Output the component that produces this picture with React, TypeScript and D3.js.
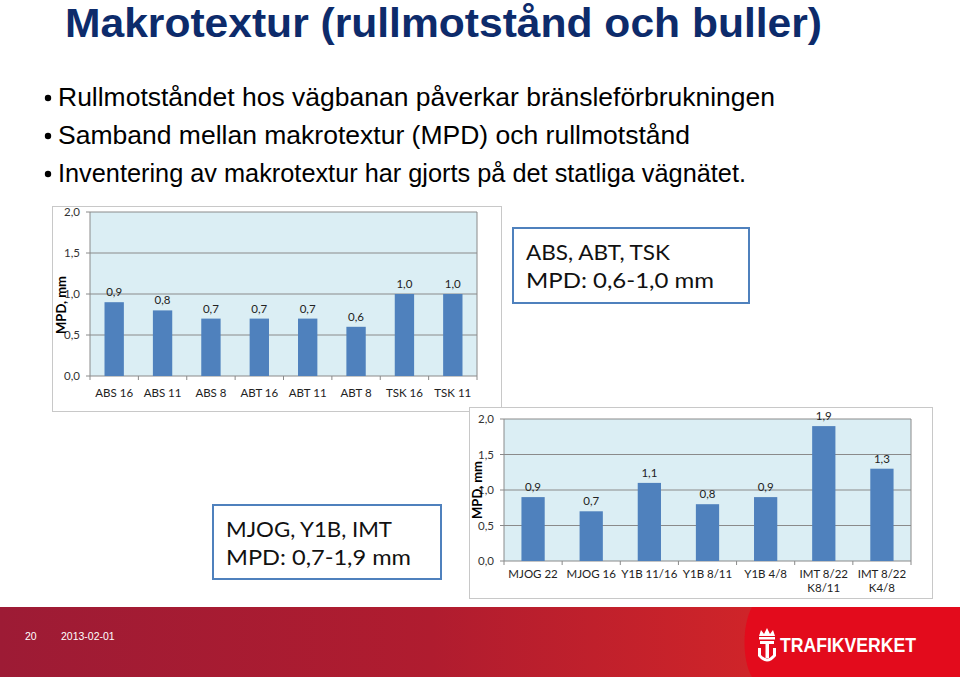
import React, { useEffect } from "react";
import * as d3 from "d3";

const titleText = "Makrotextur (rullmotstånd och buller)";
const bullets = [
  "Rullmotståndet hos vägbanan påverkar bränsleförbrukningen",
  "Samband mellan makrotextur (MPD) och rullmotstånd",
  "Inventering av makrotextur har gjorts på det statliga vägnätet.",
];
const categories1 = ["ABS 16", "ABS 11", "ABS 8", "ABT 16", "ABT 11", "ABT 8", "TSK 16", "TSK 11"];
const values1 = [0.9, 0.8, 0.7, 0.7, 0.7, 0.6, 1.0, 1.0];
const categories2 = [
  ["MJOG 22"],
  ["MJOG 16"],
  ["Y1B 11/16"],
  ["Y1B 8/11"],
  ["Y1B 4/8"],
  ["IMT 8/22", "K8/11"],
  ["IMT 8/22", "K4/8"],
];
const values2 = [0.9, 0.7, 1.1, 0.8, 0.9, 1.9, 1.3];
const yTicks = [0, 0.5, 1.0, 1.5, 2.0];
const yAxisTitle = "MPD, mm";
const box1Lines = ["ABS, ABT, TSK", "MPD: 0,6-1,0 mm"];
const box2Lines = ["MJOG, Y1B, IMT", "MPD: 0,7-1,9 mm"];
const footerPage = "20";
const footerDate = "2013-02-01";
const brand = "TRAFIKVERKET";

const fmt = (v: number) => d3.format(".1f")(v).replace(".", ",");
const chartFont = "Lato, 'Open Sans', sans-serif";

type ChartProps = {
  frame: [number, number, number, number];
  plot: [number, number, number, number];
  cats: string[][];
  vals: number[];
  titleX: number;
  titleY: number;
  catY: number;
};

function BarChart({ frame, plot, cats, vals, titleX, titleY, catY }: ChartProps) {
  const [fx, fy, fw, fh] = frame;
  const [px0, py0, px1, py1] = plot;
  const x = d3
    .scaleBand<number>()
    .domain(d3.range(vals.length))
    .range([px0, px1])
    .paddingInner(0.6)
    .paddingOuter(0.3);
  const y = d3.scaleLinear().domain([0, 2]).range([py1, py0]);
  const step = x.step();
  return (
    <g>
      <rect x={fx + 0.5} y={fy + 0.5} width={fw} height={fh} fill="#ffffff" stroke="#c8c8c8" strokeWidth={1} />
      <rect x={px0} y={py0} width={px1 - px0} height={py1 - py0} fill="#dbeef4" />
      {yTicks.map((t) => (
        <g key={t}>
          <line x1={px0} x2={px1} y1={y(t)} y2={y(t)} stroke="#8a8a8a" strokeWidth={1} />
          <line x1={px0 - 4} x2={px0} y1={y(t)} y2={y(t)} stroke="#8a8a8a" strokeWidth={1} />
          <text
            x={px0 - 10}
            y={y(t) + 4}
            textAnchor="end"
            fontFamily={chartFont}
            fontSize={11.5}
            fill="#333"
          >
            {fmt(t)}
          </text>
        </g>
      ))}
      <line x1={px1} x2={px1} y1={py0} y2={py1} stroke="#8a8a8a" strokeWidth={1} />
      <line x1={px0} x2={px0} y1={py0} y2={py1} stroke="#8a8a8a" strokeWidth={1} />
      {d3.range(vals.length + 1).map((i) => (
        <line
          key={"ct" + i}
          x1={px0 + step * i}
          x2={px0 + step * i}
          y1={py1}
          y2={py1 + 4}
          stroke="#8a8a8a"
          strokeWidth={1}
        />
      ))}
      {vals.map((v, i) => (
        <g key={"b" + i}>
          <rect x={x(i)!} y={y(v)} width={x.bandwidth()} height={y(0) - y(v)} fill="#4f81bd" />
          <text
            x={x(i)! + x.bandwidth() / 2}
            y={y(v) - 6}
            textAnchor="middle"
            fontFamily={chartFont}
            fontSize={11.5}
            fill="#222"
          >
            {fmt(v)}
          </text>
        </g>
      ))}
      {cats.map((lines, i) =>
        lines.map((l, j) => (
          <text
            key={"c" + i + "-" + j}
            x={x(i)! + x.bandwidth() / 2}
            y={catY + j * 14}
            textAnchor="middle"
            fontFamily={chartFont}
            fontSize={11.5}
            fill="#222"
          >
            {l}
          </text>
        ))
      )}
      <text
        transform={`translate(${titleX},${titleY}) rotate(-90)`}
        textAnchor="middle"
        fontFamily={chartFont}
        fontWeight="bold"
        fontSize={13}
        fill="#000"
      >
        {yAxisTitle}
      </text>
    </g>
  );
}

function TextBox({ x, y, w, h, lines, lens }: { x: number; y: number; w: number; h: number; lines: string[]; lens: number[] }) {
  return (
    <g>
      <rect x={x} y={y} width={w} height={h} fill="#fff" stroke="#4f81bd" strokeWidth={2} />
      {lines.map((l, i) => (
        <text
          key={i}
          x={x + 13}
          y={y + 32 + i * 28}
          fontFamily={chartFont}
          fontSize={22}
          fill="#111"
          textLength={lens[i]}
          lengthAdjust="spacingAndGlyphs"
        >
          {l}
        </text>
      ))}
    </g>
  );
}

export default function App() {
  useEffect(() => {
    document.body.style.margin = "0";
    document.body.style.overflow = "hidden";
  }, []);
  const bulletLens = [717, 632, 688];
  return (
    <svg width={960} height={679} style={{ position: "absolute", left: 0, top: 0, display: "block" }}>
      <defs>
        <linearGradient id="foot" x1="0" x2="1" y1="0" y2="0">
          <stop offset="0" stopColor="#9d1b35" />
          <stop offset="0.45" stopColor="#b01c2f" />
          <stop offset="0.78" stopColor="#cf2429" />
          <stop offset="1" stopColor="#de3a22" />
        </linearGradient>
      </defs>
      <rect x={0} y={0} width={960} height={679} fill="#fff" />
      <text
        x={65}
        y={37}
        fontFamily="'Liberation Sans Narrow', 'Liberation Sans', Arial, sans-serif"
        fontWeight="bold"
        fontSize={41.5}
        fill="#0d2b6b"
        textLength={757}
        lengthAdjust="spacingAndGlyphs"
      >
        {titleText}
      </text>
      {bullets.map((b, i) => (
        <g key={i}>
          <circle cx={48} cy={98 + i * 38} r={3.2} fill="#000" />
          <text
            x={58}
            y={106 + i * 38}
            fontFamily="'Liberation Sans', Arial, sans-serif"
            fontSize={26}
            fill="#000"
            textLength={bulletLens[i]}
            lengthAdjust="spacingAndGlyphs"
          >
            {b}
          </text>
        </g>
      ))}
      <BarChart
        frame={[52, 206, 449, 205]}
        plot={[90, 212, 477, 376]}
        cats={categories1.map((c) => [c])}
        vals={values1}
        titleX={66}
        titleY={305}
        catY={397}
      />
      <BarChart
        frame={[469, 407, 463, 191]}
        plot={[504, 419, 911, 561]}
        cats={categories2}
        vals={values2}
        titleX={482}
        titleY={490}
        catY={578}
      />
      <TextBox x={513} y={228} w={236} h={75} lines={box1Lines} lens={[144, 188]} />
      <TextBox x={213} y={505} w={228} h={74} lines={box2Lines} lens={[166, 185]} />
      <rect x={0} y={607} width={960} height={70} fill="url(#foot)" />
      <path d="M752,607 C742,625 742,660 752,677 L960,677 L960,607 Z" fill="#e30b1c" />
      <text x={25} y={640} fontFamily="'Liberation Sans', Arial, sans-serif" fontSize={10.5} fill="#fff">
        {footerPage}
      </text>
      <text x={61} y={640} fontFamily="'Liberation Sans', Arial, sans-serif" fontSize={10.5} fill="#fff">
        {footerDate}
      </text>
      <g fill="#fff" stroke="none">
        <path d="M759,636 L761,630 L764,634 L767,628 L770,634 L773,630 L775,636 Z" />
        <rect x={759} y={637} width={16} height={2.5} />
        <rect x={760} y={641} width={14} height={3} />
        <rect x={765.5} y={641} width={3.5} height={17} />
        <path d="M758,648 L761,648 L761,655 Q767,662 773,655 L773,648 L776,648 L776,656 Q767,667 758,656 Z" />
      </g>
      <text
        x={780}
        y={652}
        fontFamily="'Liberation Sans Narrow', 'Liberation Sans', Arial, sans-serif"
        fontWeight="bold"
        fontSize={21}
        fill="#fff"
        textLength={136}
        lengthAdjust="spacingAndGlyphs"
      >
        {brand}
      </text>
    </svg>
  );
}
